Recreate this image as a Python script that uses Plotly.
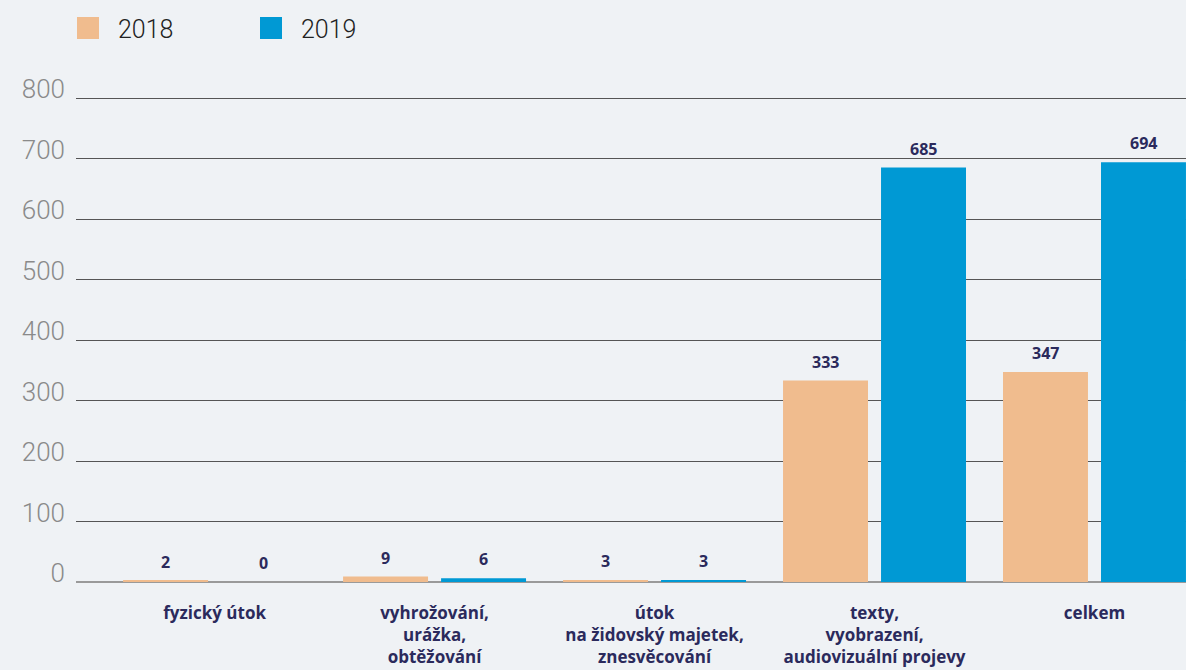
import plotly.graph_objects as go

categories = [
    "fyzický útok",
    "vyhrožování,<br>urážka,<br>obtěžování",
    "útok<br>na židovský majetek,<br>znesvěcování",
    "texty,<br>vyobrazení,<br>audiovizuální projevy",
    "celkem",
]
values_2018 = [2, 9, 3, 333, 347]
values_2019 = [0, 6, 3, 685, 694]
series_names = ["2018", "2019"]
y_ticks = [0, 100, 200, 300, 400, 500, 600, 700, 800]

c2018 = "#F0BC8E"
c2019 = "#0099D4"
bg = "#EFF2F5"
navy = "#2B2A5C"
lab_font = "Open Sans, Noto Sans"

PLOT_TOP = 95      # px of the top of plot area (value 805)
PLOT_BOTTOM = 582  # px of value 0
PH = PLOT_BOTTOM - PLOT_TOP

fig = go.Figure()
fig.add_trace(go.Bar(x=categories, y=values_2018, name=series_names[0], marker_color=c2018,
                     marker_line_width=0, showlegend=False))
fig.add_trace(go.Bar(x=categories, y=values_2019, name=series_names[1], marker_color=c2019,
                     marker_line_width=0, showlegend=False))

for vals, shift in ((values_2018, -49), (values_2019, 49)):
    for c, v in zip(categories, vals):
        fig.add_annotation(x=c, y=v, text=str(v), showarrow=False, xshift=shift,
                           yanchor="bottom", yshift=6,
                           font=dict(family=lab_font, size=16, color=navy, weight=700))

# legend (swatches + labels)
for name, col, x0 in ((series_names[0], c2018, 77), (series_names[1], c2019, 260)):
    fig.add_shape(type="rect", xref="paper", yref="paper",
                  x0=(x0 - 76) / 1110, x1=(x0 + 22 - 76) / 1110,
                  y0=(PLOT_BOTTOM - 17) / PH, y1=(PLOT_BOTTOM - 39) / PH,
                  fillcolor=col, line_width=0)
    fig.add_annotation(xref="paper", yref="paper", x=(x0 + 39 - 76) / 1110,
                       y=(PLOT_BOTTOM - 29) / PH,
                       xanchor="left", yanchor="middle", showarrow=False, text=name,
                       font=dict(family="Roboto", size=25, color="#222222", weight=300))

fig.update_layout(
    width=1186, height=670,
    paper_bgcolor=bg, plot_bgcolor=bg,
    margin=dict(l=76, r=0, t=PLOT_TOP, b=670 - PLOT_BOTTOM, autoexpand=False),
    barmode="group", bargap=0.109, bargroupgap=0.133,
    showlegend=False,
    xaxis=dict(type="category", range=[-0.63, 4.416], showgrid=False, showline=False,
               automargin=False,
               ticks="", tickfont=dict(family=lab_font, size=17, color=navy, weight=700),
               ticklabelstandoff=19),
    yaxis=dict(range=[0, 805], tickvals=y_ticks, showgrid=True, gridcolor="#555555", gridwidth=1,
               zeroline=True, zerolinecolor="#9A9A9A", zerolinewidth=2, showline=False,
               automargin=False,
               tickfont=dict(family="Roboto", size=26, color="#8A8A8A", weight=300),
               ticklabelstandoff=10, ticklabelshift=-9),
)

fig.write_html("out.html", config={"displayModeBar": False},
               post_script="document.body.style.margin='0';document.body.style.background='#EFF2F5';")
